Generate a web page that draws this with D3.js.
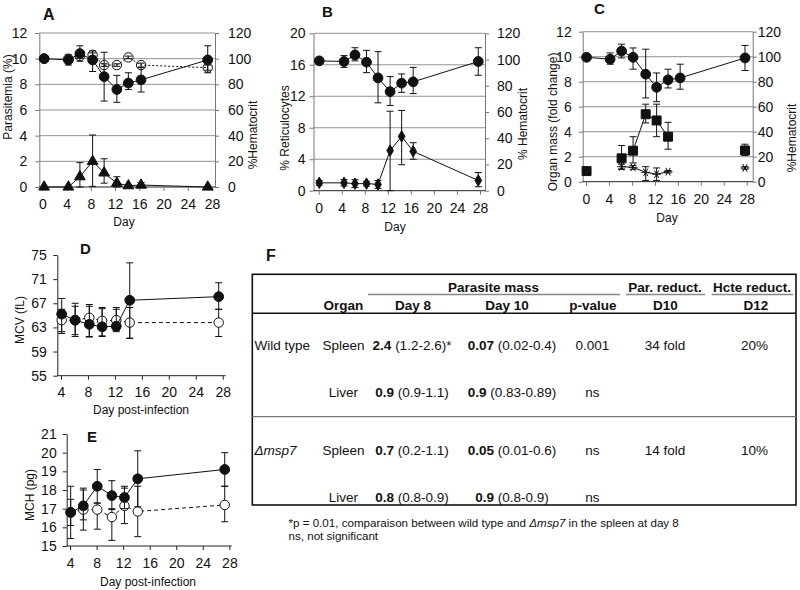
<!DOCTYPE html>
<html><head><meta charset="utf-8">
<script src="https://cdn.jsdelivr.net/npm/d3@7"></script>
<style>
body{margin:0;background:#fff}
svg{display:block}
text{font-family:"Liberation Sans",Arial,sans-serif;fill:#111}
</style>
</head><body>
<svg id="c" width="800" height="590"></svg>
<script>
// ---------------- DATA ----------------
// Panel A
const daysA = [0.3, 4.3, 6.2, 8.3, 10.2, 12.3, 14.2, 16.3, 27.3];
const hctA = [100, 99, 104, 99, 86, 76, 81, 83.5, 99];
const hctALo = [99, 95, 98, 90, 67, 66, 76, 74, 89];
const hctAHi = [101, 103, 110, 106, 105, 87, 89, 93, 110];
const hctCtlA = [100, 100, 102, 103, 95, 95, 101, 95, 93];
const hctCtlALo = [99.5, 99, 100.5, 101.5, 94, 94, 100, 93.5, 91];
const hctCtlAHi = [100.5, 101, 103.5, 104.5, 96, 96, 102, 96.5, 95];
const parasA = [0, 0, 0.8, 2.0, 1.1, 0.3, 0.1, 0.15, 0];
const parasALo = [0, 0, 0, 0.05, 0.3, 0, 0, 0, 0];
const parasAHi = [0, 0, 1.9, 4.05, 2.2, 0.8, 0.2, 0.35, 0];
// Panel B
const daysB = [0.1, 4.4, 6.3, 8.3, 10.3, 12.4, 14.4, 16.4, 27.7];
const hctB = [99, 98.5, 103.5, 98, 86, 75.5, 82, 83, 98.5];
const hctBLo = [99, 94, 99, 90, 67, 65, 75, 74, 88];
const hctBHi = [99, 103, 109, 107, 106, 87, 89, 94, 109];
const retB = [1.0, 1.0, 0.9, 0.9, 0.8, 5.1, 6.9, 5.0, 1.3];
const retBLo = [0.7, 0.6, 0.4, 0.6, 0.3, 0, 3.3, 4.0, 0.5];
const retBHi = [1.3, 1.4, 1.4, 1.2, 1.3, 10.1, 10.2, 6.1, 2.3];
// Panel C
const daysC = [0.1, 4.2, 6.2, 8.2, 10.4, 12.3, 14.3, 16.4, 27.7];
const hctC = [99.5, 98, 104.5, 99.5, 86, 75.5, 81.5, 83, 99];
const hctCLo = [99.5, 94, 99, 90, 67, 64, 75, 74, 89];
const hctCHi = [99.5, 103, 110, 107, 106, 87, 90, 94, 109];
const daysSpleen = [0.1, 6.2, 8.2, 10.4, 12.3, 14.3, 27.7];
const spleenMass = [0.85, 1.87, 2.48, 5.4, 4.9, 3.6, 2.5];
const spleenLo = [0.85, 1.0, 1.5, 4.7, 3.6, 2.6, 2.1];
const spleenHi = [0.85, 2.9, 3.6, 6.2, 6.2, 4.75, 3.0];
const daysLiver = [6.2, 8.2, 10.4, 12.3, 14.3, 27.7];
const liverMass = [1.2, 1.15, 0.75, 0.6, 0.8, 1.1];
const liverLo = [1.0, 1.0, 0.1, 0.1, 0.7, 1.0];
const liverHi = [1.4, 1.3, 1.2, 1.1, 0.9, 1.2];
// Panel D
const daysD = [4.1, 6.1, 8.2, 10.1, 12.2, 14.2, 27.4];
const mcvInf = [65.2, 64.2, 63.5, 63.1, 63.2, 67.5, 68.1];
const mcvInfLo = [62.3, 61.5, 61.5, 61.5, 62.3, 61.2, 66];
const mcvInfHi = [67.8, 67.0, 66.5, 66.3, 66.3, 73.7, 70.4];
const mcvCtl = [64.2, 64.2, 64.6, 64.1, 64.2, 63.8, 63.8];
const mcvCtlLo = [62, 61.8, 61.4, 61.6, 62.5, 61.2, 61.5];
const mcvCtlHi = [66, 66.5, 66.8, 66.1, 66, 66.3, 66];
// Panel E
const daysE = [4.1, 6.0, 8.1, 10.3, 12.2, 14.2, 27.3];
const mchInf = [16.8, 17.15, 18.2, 17.7, 17.6, 18.6, 19.1];
const mchInfLo = [15.4, 16.4, 17.3, 16.95, 17.0, 17.1, 18.2];
const mchInfHi = [18.2, 18.1, 19.1, 18.5, 18.2, 20.1, 20.0];
const mchCtl = [16.8, 16.95, 16.95, 16.55, 17.15, 16.85, 17.2];
const mchCtlLo = [16.1, 15.85, 15.9, 15.3, 16.2, 15.5, 16.3];
const mchCtlHi = [17.5, 18.0, 17.3, 17.0, 18.1, 18.2, 18.2];
// Tick labels
const dayTicks = [0, 4, 8, 12, 16, 20, 24, 28];
const dayTicksDE = [4, 8, 12, 16, 20, 24, 28];
const hctTicks = [0, 20, 40, 60, 80, 100, 120];
const parTicks = [0, 2, 4, 6, 8, 10, 12];
const retTicks = [0, 4, 8, 12, 16, 20];
const mcvTicks = [55, 59, 63, 67, 71, 75];
const mchTicks = [15, 16, 17, 18, 19, 20, 21];
// Table F
const groupHeads = ["Parasite mass", "Par. reduct.", "Hcte reduct."];
const colHeads = ["Organ", "Day 8", "Day 10", "p-value", "D10", "D12"];
const rowStrain = ["Wild type", "", "Δmsp7", ""];
const rowOrgan = ["Spleen", "Liver", "Spleen", "Liver"];
const day8Val = ["2.4", "0.9", "0.7", "0.8"];
const day8CI = ["(1.2-2.6)*", "(0.9-1.1)", "(0.2-1.1)", "(0.8-0.9)"];
const day10Val = ["0.07", "0.9", "0.05", "0.9"];
const day10CI = ["(0.02-0.4)", "(0.83-0.89)", "(0.01-0.6)", "(0.8-0.9)"];
const pValues = ["0.001", "ns", "ns", "ns"];
const parReduct = ["34 fold", "", "14 fold", ""];
const hcteReduct = ["20%", "", "10%", ""];

// ---------------- DRAWING ----------------
const svg = d3.select("#c");
const GRID = "#929292", AX = "#777";
const FONT = "Liberation Sans, Arial, sans-serif";

function sym(type, size) { return d3.symbol().type(type).size(size)(); }

function series(g, x, y, days, vals, lo, hi, o) {
  const pts = days.map((d, i) => ({d, v: vals[i], lo: lo[i], hi: hi[i], i}));
  if (o.line !== false) {
    const from = o.from || 0, to = (o.to === undefined) ? pts.length - 1 : o.to;
    const sub = pts.slice(from, to + 1);
    g.append("path").datum(sub)
      .attr("d", d3.line().x(p => x(p.d)).y(p => y(p.v)))
      .attr("fill", "none").attr("stroke", "#111").attr("stroke-width", 1)
      .attr("stroke-dasharray", o.dash || null);
  }
  const cw = 3.5;
  pts.forEach(p => {
    [[p.v, p.hi], [p.v, p.lo]].forEach(([a, b]) => {
      if (Math.abs(y(a) - y(b)) < 0.5) return;
      g.append("line").attr("x1", x(p.d)).attr("x2", x(p.d)).attr("y1", y(a)).attr("y2", y(b))
        .attr("stroke", "#111").attr("stroke-width", 1);
      g.append("line").attr("x1", x(p.d) - cw).attr("x2", x(p.d) + cw).attr("y1", y(b)).attr("y2", y(b))
        .attr("stroke", "#111").attr("stroke-width", 1);
    });
  });
  g.selectAll(null).data(pts).enter().append("path")
    .attr("d", sym(o.type, o.size))
    .attr("transform", p => `translate(${x(p.d)},${y(p.v)}) rotate(${o.rot || 0})`)
    .attr("fill", o.fill).attr("stroke", "#111").attr("stroke-width", o.sw || 1);
}

function styleAxis(sel, axc) {
  sel.selectAll("text").attr("font-size", "14px").attr("fill", "#222").attr("font-family", FONT);
  sel.selectAll("line,path").attr("stroke", axc);
}

function panel(s) {
  const g = svg.append("g");
  const x = d3.scaleLinear().domain(s.xd).range([s.l, s.r]);
  const yL = d3.scaleLinear().domain(s.yL).range([s.b, s.t]);
  const yR = s.yR ? d3.scaleLinear().domain(s.yR).range([s.b, s.t]) : null;
  if (s.grid) {
    g.selectAll(null).data(s.yLTicks.filter(v => v !== s.yL[0])).enter().append("line")
      .attr("x1", s.l).attr("x2", s.r).attr("y1", d => yL(d)).attr("y2", d => yL(d))
      .attr("stroke", GRID).attr("stroke-width", 1);
  }
  const ax = d3.axisLeft(yL).tickValues(s.yLTicks).tickFormat(d3.format("d"))
    .tickSize(4).tickSizeOuter(0).tickPadding(s.lp);
  styleAxis(g.append("g").attr("transform", `translate(${s.l},0)`).call(ax), s.axc);
  if (yR) {
    const ar = d3.axisRight(yR).tickValues(s.yRTicks).tickFormat(d3.format("d"))
      .tickSize(4).tickSizeOuter(0).tickPadding(s.rp);
    styleAxis(g.append("g").attr("transform", `translate(${s.r},0)`).call(ar), s.axc);
  }
  const axb = d3.axisBottom(x).tickValues(s.xTicks).tickFormat(d3.format("d"))
    .tickSize(4).tickSizeOuter(0).tickPadding(s.bp || 8);
  const gb = g.append("g").attr("transform", `translate(0,${s.b})`).call(axb);
  styleAxis(gb, s.axc);
  gb.select("path").attr("stroke", "#222").attr("d", `M${s.l},0H${s.r}`);
  g.append("text").attr("transform", `translate(${s.ltx},${s.lty}) rotate(-90)`)
    .attr("text-anchor", "middle").attr("dominant-baseline", "central").attr("font-size", "12px").text(s.lt);
  if (s.rt) g.append("text").attr("transform", `translate(${s.rtx},${s.rty}) rotate(-90)`)
    .attr("text-anchor", "middle").attr("dominant-baseline", "central").attr("font-size", "12px").text(s.rt);
  g.append("text").attr("x", s.btx).attr("y", s.bty).attr("text-anchor", "middle").attr("font-size", "12px").text(s.bt);
  g.append("text").attr("x", s.lbx).attr("y", s.lby).attr("font-size", s.lbs + "px").attr("font-weight", "bold").text(s.lb);
  return {g, x, yL, yR};
}

// Panel A
{
  const p = panel({l: 39.3, r: 215, t: 33, b: 187, xd: [-0.5, 28.5], yL: [0, 12], yR: [0, 120],
    yLTicks: parTicks, yRTicks: hctTicks, xTicks: dayTicks, grid: true, lp: 8, rp: 9, axc: AX,
    lt: "Parasitemia  (%)", ltx: 8, lty: 97, rt: "%Hematocrit", rtx: 253, rty: 135,
    bt: "Day", btx: 124, bty: 226, lb: "A", lbx: 43, lby: 20, lbs: 16});
  series(p.g, p.x, p.yR, daysA, hctCtlA, hctCtlALo, hctCtlAHi, {type: d3.symbolCircle, size: 70, fill: "none", dash: "2,2", from: 3});
  series(p.g, p.x, p.yL, daysA, parasA, parasALo, parasAHi, {type: d3.symbolTriangle, size: 50, fill: "#111"});
  series(p.g, p.x, p.yR, daysA, hctA, hctALo, hctAHi, {type: d3.symbolCircle, size: 75, fill: "#111"});
}
// Panel B
{
  const p = panel({l: 313.5, r: 485, t: 33.3, b: 190.7, xd: [-0.9, 28.87], yL: [0, 20], yR: [0, 120],
    yLTicks: retTicks, yRTicks: hctTicks, xTicks: dayTicks, grid: true, lp: 4, rp: 8, axc: AX,
    lt: "% Reticulocytes", ltx: 285, lty: 128, rt: "% Hematocrit", rtx: 523, rty: 124,
    bt: "Day", btx: 395, bty: 231, lb: "B", lbx: 322, lby: 17, lbs: 15});
  series(p.g, p.x, p.yL, daysB, retB, retBLo, retBHi, {type: d3.symbolDiamond, size: 38, fill: "#111"});
  series(p.g, p.x, p.yR, daysB, hctB, hctBLo, hctBHi, {type: d3.symbolCircle, size: 75, fill: "#111"});
}
// Panel C
{
  const p = panel({l: 582.7, r: 752.7, t: 31.7, b: 181.7, xd: [-0.575, 29.04], yL: [0, 12], yR: [0, 120],
    yLTicks: parTicks, yRTicks: hctTicks, xTicks: dayTicks, grid: true, lp: 7, rp: 1, axc: AX,
    lt: "Organ mass (fold change)", ltx: 553, lty: 122, rt: "%Hematocrit", rtx: 792, rty: 138,
    bt: "Day", btx: 667, bty: 222, lb: "C", lbx: 594, lby: 14, lbs: 15});
  series(p.g, p.x, p.yL, daysLiver, liverMass, liverLo, liverHi, {type: d3.symbolAsterisk, size: 55, fill: "none", rot: 90, from: 0, to: 4});
  series(p.g, p.x, p.yL, daysSpleen, spleenMass, spleenLo, spleenHi, {type: d3.symbolSquare, size: 80, fill: "#111", from: 1, to: 5});
  series(p.g, p.x, p.yR, daysC, hctC, hctCLo, hctCHi, {type: d3.symbolCircle, size: 75, fill: "#111"});
}
// Panel D
{
  const p = panel({l: 57.3, r: 225.7, t: 255, b: 375.7, xd: [3.45, 28.44], yL: [55, 75],
    yLTicks: mcvTicks, xTicks: dayTicksDE, grid: false, lp: 6.5, axc: "#222", bp: 7,
    lt: "MCV (fL)", ltx: 20, lty: 320, bt: "Day post-infection", btx: 141, bty: 414,
    lb: "D", lbx: 80, lby: 254, lbs: 15});
  series(p.g, p.x, p.yL, daysD, mcvCtl, mcvCtlLo, mcvCtlHi, {type: d3.symbolCircle, size: 70, fill: "#fff", dash: "4,3"});
  series(p.g, p.x, p.yL, daysD, mcvInf, mcvInfLo, mcvInfHi, {type: d3.symbolCircle, size: 75, fill: "#111"});
}
// Panel E
{
  const p = panel({l: 66.7, r: 231.7, t: 434, b: 546, xd: [3.5, 28.35], yL: [15, 21],
    yLTicks: mchTicks, xTicks: dayTicksDE, grid: false, lp: 6, axc: "#222", bp: 8,
    lt: "MCH (pg)", ltx: 30, lty: 495, bt: "Day post-infection", btx: 148, bty: 586,
    lb: "E", lbx: 87, lby: 442, lbs: 15});
  series(p.g, p.x, p.yL, daysE, mchCtl, mchCtlLo, mchCtlHi, {type: d3.symbolCircle, size: 70, fill: "#fff", dash: "4,3"});
  series(p.g, p.x, p.yL, daysE, mchInf, mchInfLo, mchInfHi, {type: d3.symbolCircle, size: 75, fill: "#111"});
}

// Panel F (table)
{
  const g = svg.append("g");
  const fs = "13.5px";
  g.append("text").attr("x", 266).attr("y", 261).attr("font-size", "16px").attr("font-weight", "bold").text("F");
  g.append("rect").attr("x", 252.3).attr("y", 274.3).attr("width", 796 - 252.3).attr("height", 505 - 274.3)
    .attr("fill", "none").attr("stroke", "#111").attr("stroke-width", 1.6);
  g.append("line").attr("x1", 252.3).attr("x2", 796).attr("y1", 313.3).attr("y2", 313.3).attr("stroke", "#111").attr("stroke-width", 1.6);
  g.append("line").attr("x1", 252.3).attr("x2", 796).attr("y1", 416.7).attr("y2", 416.7).attr("stroke", "#777").attr("stroke-width", 1.2);
  const groupSpans = [[368, 620], [626, 705], [711.7, 793]];
  const groupCx = [493.5, 665, 752];
  groupHeads.forEach((h, i) => {
    g.append("line").attr("x1", groupSpans[i][0]).attr("x2", groupSpans[i][1]).attr("y1", 294.5).attr("y2", 294.5)
      .attr("stroke", "#888").attr("stroke-width", 1.6);
    g.append("text").attr("x", groupCx[i]).attr("y", 291.5).attr("text-anchor", "middle")
      .attr("font-size", fs).attr("font-weight", "bold").text(h);
  });
  const colCx = [343.5, 413, 507, 593, 665.5, 756];
  colHeads.forEach((h, i) => {
    g.append("text").attr("x", colCx[i]).attr("y", 310).attr("text-anchor", "middle")
      .attr("font-size", fs).attr("font-weight", "bold").text(h);
  });
  const rowY = [350, 397.3, 455, 501.5];
  rowY.forEach((yy, r) => {
    if (rowStrain[r]) {
      const t = g.append("text").attr("x", 254.5).attr("y", yy).attr("font-size", fs).text(rowStrain[r]);
      if (r === 2) t.attr("font-style", "italic");
    }
    g.append("text").attr("x", 343.5).attr("y", yy).attr("text-anchor", "middle").attr("font-size", fs).text(rowOrgan[r]);
    const c1 = g.append("text").attr("x", 412).attr("y", yy).attr("text-anchor", "middle").attr("font-size", fs);
    c1.append("tspan").attr("font-weight", "bold").text(day8Val[r]);
    c1.append("tspan").text(" " + day8CI[r]);
    const c2 = g.append("text").attr("x", 512).attr("y", yy).attr("text-anchor", "middle").attr("font-size", fs);
    c2.append("tspan").attr("font-weight", "bold").text(day10Val[r]);
    c2.append("tspan").text(" " + day10CI[r]);
    g.append("text").attr("x", 592.5).attr("y", yy).attr("text-anchor", "middle").attr("font-size", fs).text(pValues[r]);
    if (parReduct[r]) g.append("text").attr("x", 665).attr("y", yy).attr("text-anchor", "middle").attr("font-size", fs).text(parReduct[r]);
    if (hcteReduct[r]) g.append("text").attr("x", 754.5).attr("y", yy).attr("text-anchor", "middle").attr("font-size", fs).text(hcteReduct[r]);
  });
  const fn = g.append("text").attr("x", 288.5).attr("y", 527).attr("font-size", "11.6px");
  fn.append("tspan").text("*p = 0.01, comparaison between wild type and ");
  fn.append("tspan").attr("font-style", "italic").text("Δmsp7");
  fn.append("tspan").text(" in the spleen at day 8");
  g.append("text").attr("x", 288.5).attr("y", 540).attr("font-size", "11.6px").text("ns, not significant");
}
</script>
</body></html>
